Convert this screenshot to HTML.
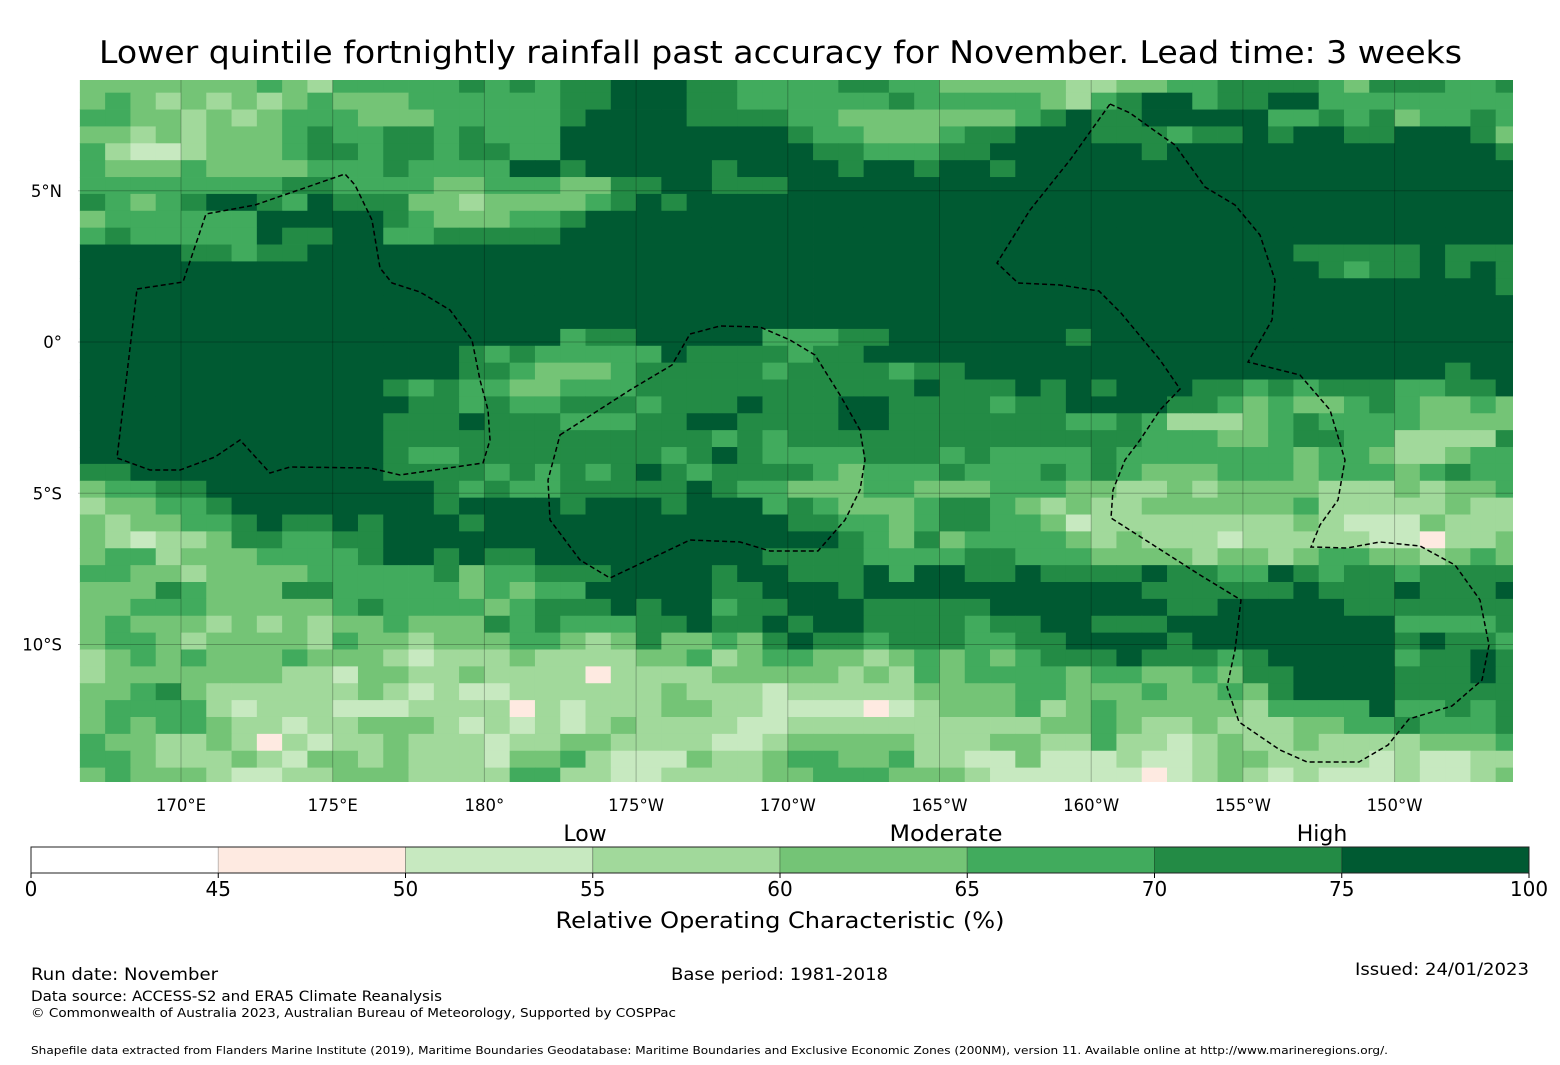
<!DOCTYPE html>
<html><head><meta charset="utf-8">
<style>
html,body{margin:0;padding:0;background:#fff;}
svg{display:block;font-family:"DejaVu Sans","Liberation Sans",sans-serif;}
</style></head>
<body>
<svg id="chart" width="1560" height="1065" viewBox="0 0 1560 1065" xmlns="http://www.w3.org/2000/svg">
<rect x="0" y="0" width="1560" height="1065" fill="#fff"/>
<text x="780.5" y="63" font-size="31" text-anchor="middle" textLength="1363" lengthAdjust="spacingAndGlyphs">Lower quintile fortnightly rainfall past accuracy for November. Lead time: 3 weeks</text>
<defs><clipPath id="mapclip"><rect x="78" y="80" width="1435" height="702"/></clipPath></defs>
<g id="cells" clip-path="url(#mapclip)"></g>
<g id="grid" clip-path="url(#mapclip)"></g>
<g id="eez" clip-path="url(#mapclip)" fill="none" stroke="#000" stroke-width="1.5" stroke-dasharray="5,3"></g>
<g id="xlabels" font-size="16.5" text-anchor="middle"></g>
<g id="ylabels" font-size="16.5" text-anchor="end"></g>
<g id="cbar"></g>
<g font-size="22" text-anchor="middle">
<text x="585" y="841">Low</text>
<text x="946" y="841" textLength="113" lengthAdjust="spacingAndGlyphs">Moderate</text>
<text x="1322" y="841">High</text>
</g>
<text x="780" y="928" font-size="22" text-anchor="middle" textLength="449" lengthAdjust="spacingAndGlyphs">Relative Operating Characteristic (%)</text>
<text x="31" y="980" font-size="17" textLength="187" lengthAdjust="spacingAndGlyphs">Run date: November</text>
<text x="671" y="980" font-size="17" textLength="217" lengthAdjust="spacingAndGlyphs">Base period: 1981-2018</text>
<text x="1529" y="975" font-size="17" text-anchor="end" textLength="174" lengthAdjust="spacingAndGlyphs">Issued: 24/01/2023</text>
<text x="31" y="1001" font-size="14.5" textLength="411" lengthAdjust="spacingAndGlyphs">Data source: ACCESS-S2 and ERA5 Climate Reanalysis</text>
<text x="31" y="1017" font-size="12.5" textLength="645" lengthAdjust="spacingAndGlyphs">© Commonwealth of Australia 2023, Australian Bureau of Meteorology, Supported by COSPPac</text>
<text x="31" y="1054" font-size="10.5" textLength="1357" lengthAdjust="spacingAndGlyphs">Shapefile data extracted from Flanders Marine Institute (2019), Maritime Boundaries Geodatabase: Maritime Boundaries and Exclusive Economic Zones (200NM), version 11. Available online at http://www.marineregions.org/.</text>
</svg>
<script>
// ROC categories per grid cell (0:<45, 1:45-50, 2:50-55, 3:55-60, 4:60-65, 5:65-70, 6:70-75, 7:>=75), one string per latitude row (north to south)
const rocRows = [
"444444454355555656566777665555665544444334455666654666556",
"454343434544455555566777665555556555554356775667755555555",
"554434345554445555567777666655444444456766777775565645565",
"443434445655665655577777777765544456677766656676776677764",
"532234445665665665577777777776655566777777677777777777776",
"544454444555655557767777767777677677677777777777777777777",
"555555556655554455544667766677777777777777777777777777777",
"654567765766644344445676777777777777777777777777777777777",
"455555577777654445567777777777777777777777777777777777777",
"565555576677556666677777777777777777777777777777777777777",
"777766566777777777777777777777777777777777777777666667666",
"777777777777777777777777777777777777777777777777765667676",
"777777777777777777777777777777777777777777777777777777776",
"777777777777777777777777777777777777777777777777777777777",
"777777777777777777777777777777777777777777777777777777777",
"777777777777777777756677777555667777777677777777777777777",
"777777777777777656555557666656677777777777777777777777777",
"777777777777777665444566666566665667777777777777777777677",
"777777777777656554455566666666666766676767776656566655667",
"777777777777766565566656667666776666566777766545445654454",
"777777777777666766655566776666776666666556533345655554444",
"777777777777666666666666656566666666666666555445665533336",
"777777777777655666666665676555566656555565555555455433455",
"667777777777666656565676566665455565556565444555455545655",
"455667777777776565566666765544455444555443343444433343445",
"344556777777776777767776777565444566543433444444533333433",
"434455676676777677777777777766554566554233333333432224333",
"432334665566777777777777777777654645555434333233333221334",
"455344455556776766777777777666655556655544443443455443454",
"554434444555556455666777767766675776676666766557656656666",
"444654446655555454557777766777677777777777666666766676667",
"445554444456555545666767756677766666777777766777776666666",
"454443434344544465655566766767766665667766677777777755556",
"455434444354434445543464454676656665566777767777777767665",
"345454445444323334333344534554434545456667666567777756676",
"344444443324433433331333344444343545555455445466777766676",
"445643333334323223333334333233333444455444544546777766666",
"455553233322233331323334433222212344453454444435555755656",
"454554332334443232323433332233333333334454334333445565556",
"544334313233433323344333322344444333443353323433433334445",
"554333432443433324453222433455445332242223223443333232233",
"454443223344433335533223333445554443222222123432322232234"
];
// representative ROC value (%) for each category code
const categoryValues = [40, 47.5, 52.5, 57.5, 62.5, 67.5, 72.5, 85];
// colorbar boundaries and colors
const cbarBounds = [0, 45, 50, 55, 60, 65, 70, 75, 100];
const cbarColors = ["#ffffff", "#feeae1", "#c7e9c0", "#a1d99b", "#74c476", "#41ab5d", "#238b45", "#005a32"];
const cbarTicks = ["0", "45", "50", "55", "60", "65", "70", "75", "100"];
// axis ticks
const lonTicks = [170, 175, 180, 185, 190, 195, 200, 205, 210];
const lonLabels = ["170°E", "175°E", "180°", "175°W", "170°W", "165°W", "160°W", "155°W", "150°W"];
const latTicks = [5, 0, -5, -10];
const latLabels = ["5°N", "0°", "5°S", "10°S"];
const gridLon0 = 166.6667, gridDLon = 0.8333;   // cell west edge / width (deg)
const gridLat0 = 8.8, gridDLat = 0.5578;        // cell north edge / height (deg)

const NS = "http://www.w3.org/2000/svg";
// axis functions (lon in degrees east 0..360, lat degrees)
function xLon(lon){ return 181 + (lon - 170) * 30.34; }
function yLat(lat){ return 342 - lat * 30.25; }
function cbX(v){ const i = cbarBounds.findIndex((b, k) => v <= cbarBounds[k+1]); const k = Math.max(0, Math.min(7, i)); return 31 + (k + (v - cbarBounds[k]) / (cbarBounds[k+1] - cbarBounds[k])) * 187.25; }
function colorFor(v){ for (let k = 0; k < 8; k++){ if (v < cbarBounds[k+1]) return cbarColors[k]; } return cbarColors[7]; }
function mk(tag, attrs, parent){ const e = document.createElementNS(NS, tag); for (const a in attrs) e.setAttribute(a, attrs[a]); parent.appendChild(e); return e; }

const cells = document.getElementById('cells');
rocRows.forEach((row, r) => {
  for (let c = 0; c < row.length; c++){
    const v = categoryValues[+row[c]];
    const x1 = xLon(gridLon0 + c * gridDLon), x2 = xLon(gridLon0 + (c + 1) * gridDLon);
    const y1 = yLat(gridLat0 - r * gridDLat), y2 = yLat(gridLat0 - (r + 1) * gridDLat);
    const el = mk('rect', {x: x1.toFixed(2), y: y1.toFixed(2), width: (x2 - x1 + 0.4).toFixed(2), height: (y2 - y1 + 0.4).toFixed(2), fill: colorFor(v)}, cells);
    
    
  }
});

const grid = document.getElementById('grid');
lonTicks.forEach(l => { const x = xLon(l); const el = mk('line', {x1: x, x2: x, y1: 80, y2: 782, stroke: '#000', 'stroke-opacity': 0.25, 'stroke-width': 1}, grid);
    });
latTicks.forEach(l => { const y = yLat(l); const el = mk('line', {x1: 78, x2: 1513, y1: y, y2: y, stroke: '#000', 'stroke-opacity': 0.25, 'stroke-width': 1}, grid);
    });

const xl = document.getElementById('xlabels');
lonTicks.forEach((l, i) => { const t = mk('text', {x: xLon(l), y: 811}, xl); t.textContent = lonLabels[i];
    });
const yl = document.getElementById('ylabels');
latTicks.forEach((l, i) => { const t = mk('text', {x: 62, y: yLat(l) + 6}, yl); t.textContent = latLabels[i];
    });

const eezPaths = [
 "M137,289 L183,282 L206,214 L255,205 L345,174 L355,185 L372,220 L380,268 L392,283 L420,292 L450,310 L472,340 L480,380 L488,410 L490,440 L483,463 L400,475 L370,468 L290,467 L270,473 L240,440 L215,457 L180,470 L150,470 L117,458 Z",
 "M560,435 L630,390 L672,365 L690,334 L720,326 L760,327 L790,340 L815,355 L840,395 L860,430 L865,460 L860,490 L845,520 L818,551 L770,551 L740,542 L690,540 L610,578 L580,560 L550,520 L548,480 Z",
 "M1110,104 L1130,113 L1155,131 L1175,145 L1205,187 L1235,205 L1260,235 L1275,280 L1272,320 L1248,362 L1300,375 L1330,410 L1345,460 L1338,500 L1320,525 L1311,547 L1347,548 L1380,542 L1420,546 L1455,565 L1480,600 L1489,645 L1482,680 L1452,706 L1409,719 L1388,745 L1359,762 L1307,762 L1280,750 L1239,722 L1227,687 L1235,650 L1241,600 L1200,575 L1111,518 L1113,490 L1125,460 L1140,440 L1160,410 L1180,389 L1160,360 L1121,313 L1099,291 L1060,285 L1018,283 L997,263 L1030,210 L1070,160 Z"
];
const eez = document.getElementById('eez');
eezPaths.forEach(d => { const p = mk('path', {d: d}, eez);   });

// colorbar
const cb = document.getElementById('cbar');
for (let k = 0; k < 8; k++){
  const x1 = cbX(cbarBounds[k]), x2 = cbX(cbarBounds[k+1]);
  const r = mk('rect', {x: x1, y: 847, width: x2 - x1, height: 26, fill: cbarColors[k], stroke: k > 0 ? 'rgba(0,0,0,0.25)' : 'none', 'stroke-width': 1}, cb);
   
}
const fr = mk('rect', {x: 31, y: 847, width: 1498, height: 26, fill: 'none', stroke: '#222', 'stroke-width': 1}, cb);
 
cbarBounds.forEach((b, i) => {
  const x = cbX(b);
  const tk = mk('line', {x1: x, x2: x, y1: 873, y2: 878, stroke: '#000', 'stroke-width': 1}, cb);
   
  const t = mk('text', {x: x, y: 896, 'font-size': 20, 'text-anchor': 'middle'}, cb); t.textContent = cbarTicks[i];
   
});
</script>
</body></html>
